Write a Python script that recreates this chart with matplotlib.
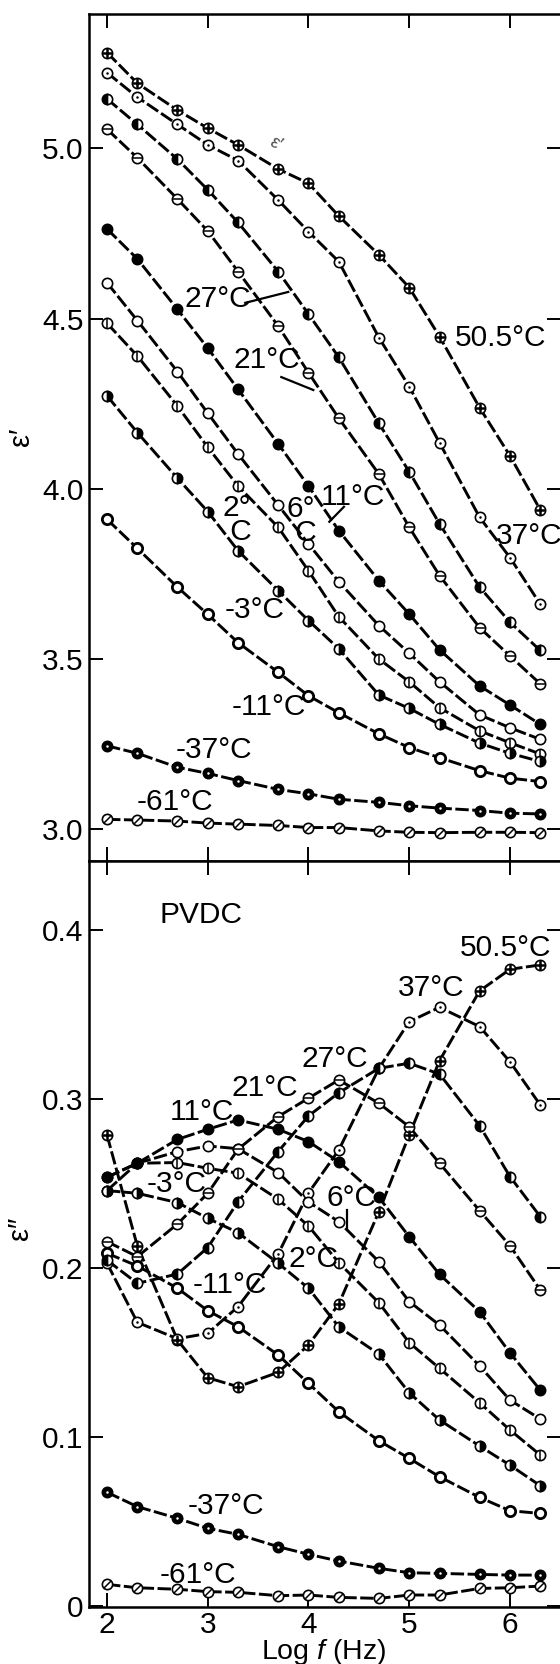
import matplotlib
matplotlib.use("Agg")
import matplotlib.pyplot as plt
import numpy as np
from matplotlib.path import Path

plt.rcParams["font.family"] = ["Liberation Sans", "DejaVu Sans"]
plt.rcParams["mathtext.fontset"] = "custom"
plt.rcParams["mathtext.rm"] = "Liberation Sans"
plt.rcParams["mathtext.it"] = "Liberation Sans:italic"

# measurement frequencies: 100 Hz ... 2 MHz
log_f = np.log10([1e2, 2e2, 5e2, 1e3, 2e3, 5e3, 1e4, 2e4, 5e4, 1e5, 2e5, 5e5, 1e6, 2e6])

temps = ["50.5", "37", "27", "21", "11", "6", "2", "-3", "-11", "-37", "-61"]

# real part, eps'
eps1_505 = [5.281, 5.191, 5.112, 5.059, 5.010, 4.939, 4.897, 4.801, 4.687, 4.591, 4.447, 4.238, 4.097, 3.938]
eps1_37 = [5.222, 5.150, 5.070, 5.010, 4.964, 4.848, 4.755, 4.667, 4.444, 4.300, 4.135, 3.916, 3.798, 3.661]
eps1_27 = [5.145, 5.070, 4.968, 4.878, 4.782, 4.638, 4.513, 4.386, 4.192, 4.050, 3.897, 3.711, 3.608, 3.525]
eps1_21 = [5.056, 4.972, 4.851, 4.757, 4.638, 4.478, 4.341, 4.207, 4.043, 3.887, 3.745, 3.592, 3.509, 3.427]
eps1_11 = [4.763, 4.675, 4.527, 4.413, 4.292, 4.132, 4.008, 3.877, 3.730, 3.632, 3.527, 3.421, 3.365, 3.308]
eps1_6 = [4.605, 4.494, 4.344, 4.222, 4.102, 3.952, 3.838, 3.727, 3.598, 3.517, 3.433, 3.336, 3.298, 3.264]
eps1_2 = [4.486, 4.390, 4.243, 4.122, 4.008, 3.887, 3.759, 3.624, 3.500, 3.433, 3.357, 3.289, 3.254, 3.221]
eps1_m3 = [4.273, 4.165, 4.031, 3.933, 3.818, 3.701, 3.613, 3.530, 3.394, 3.355, 3.308, 3.253, 3.223, 3.199]
eps1_m11 = [3.910, 3.825, 3.711, 3.631, 3.548, 3.461, 3.392, 3.342, 3.280, 3.240, 3.210, 3.172, 3.150, 3.140]
eps1_m37 = [3.245, 3.223, 3.182, 3.164, 3.143, 3.117, 3.104, 3.088, 3.079, 3.069, 3.062, 3.055, 3.047, 3.045]
eps1_m61 = [3.029, 3.027, 3.024, 3.018, 3.015, 3.011, 3.005, 3.005, 2.995, 2.991, 2.990, 2.991, 2.991, 2.990]

# loss, eps''
eps2_505 = [0.2786, 0.2129, 0.1573, 0.1349, 0.1296, 0.1381, 0.1543, 0.1786, 0.2332, 0.2786, 0.3226, 0.3639, 0.3767, 0.3793]
eps2_37 = [0.2027, 0.1677, 0.1580, 0.1612, 0.1770, 0.2082, 0.2443, 0.2697, 0.3180, 0.3457, 0.3542, 0.3428, 0.3220, 0.2964]
eps2_27 = [0.2045, 0.1908, 0.1963, 0.2120, 0.2391, 0.2688, 0.2899, 0.3036, 0.3181, 0.3211, 0.3147, 0.2841, 0.2540, 0.2303]
eps2_21 = [0.2155, 0.2066, 0.2259, 0.2441, 0.2702, 0.2895, 0.3004, 0.3112, 0.2974, 0.2835, 0.2619, 0.2338, 0.2131, 0.1869]
eps2_11 = [0.2536, 0.2619, 0.2760, 0.2820, 0.2875, 0.2820, 0.2747, 0.2628, 0.2417, 0.2184, 0.1961, 0.1740, 0.1497, 0.1276]
eps2_6 = [0.2536, 0.2619, 0.2688, 0.2721, 0.2705, 0.2564, 0.2390, 0.2273, 0.2036, 0.1800, 0.1661, 0.1419, 0.1217, 0.1105]
eps2_2 = [0.2457, 0.2619, 0.2623, 0.2589, 0.2560, 0.2406, 0.2247, 0.2030, 0.1793, 0.1557, 0.1405, 0.1201, 0.1040, 0.0892]
eps2_m3 = [0.2457, 0.2441, 0.2386, 0.2293, 0.2208, 0.2027, 0.1879, 0.1650, 0.1489, 0.1260, 0.1099, 0.0945, 0.0832, 0.0710]
eps2_m11 = [0.2086, 0.2011, 0.1879, 0.1746, 0.1651, 0.1484, 0.1316, 0.1148, 0.0976, 0.0872, 0.0763, 0.0641, 0.0562, 0.0546]
eps2_m37 = [0.0671, 0.0586, 0.0517, 0.0458, 0.0422, 0.0349, 0.0304, 0.0264, 0.0221, 0.0195, 0.0191, 0.0185, 0.0181, 0.0181]
eps2_m61 = [0.0126, 0.0106, 0.0097, 0.0083, 0.0079, 0.0059, 0.0063, 0.0049, 0.0043, 0.0063, 0.0063, 0.0102, 0.0106, 0.0116]

eps1 = [eps1_505, eps1_37, eps1_27, eps1_21, eps1_11, eps1_6, eps1_2, eps1_m3, eps1_m11, eps1_m37, eps1_m61]
eps2 = [eps2_505, eps2_37, eps2_27, eps2_21, eps2_11, eps2_6, eps2_2, eps2_m3, eps2_m11, eps2_m37, eps2_m61]

# symbol used for each temperature
symbols = ["plus", "dot", "left", "hbar", "full", "open", "vbar", "right", "thick", "inv", "slash"]

# curve labels: (text, x, y) in data units
labels_top = [
    ("50.5°C", 5.45, 4.444), ("37°C", 5.86, 3.861), ("27°C", 2.772, 4.557),
    ("21°C", 3.253, 4.377), ("11°C", 4.117, 3.976), ("6°\n C", 3.784, 3.905),
    ("2°\n C", 3.143, 3.908),
    ("-3°C", 3.163, 3.644), ("-11°C", 3.233, 3.359), ("-37°C", 2.684, 3.233),
    ("-61°C", 2.293, 3.081),
]
leaders_top = [((3.372, 3.799), (4.546, 4.578)), ((3.730, 4.048), (4.328, 4.290)),
               ((4.352, 4.207), (3.947, 3.903))]
labels_bot = [
    ("PVDC", 2.524, 0.4089), ("50.5°C", 5.506, 0.3896), ("37°C", 4.883, 0.3657),
    ("27°C", 3.926, 0.3236), ("21°C", 3.233, 0.3065), ("11°C", 2.623, 0.2924),
    ("-3°C", 2.398, 0.2496), ("-11°C", 2.845, 0.1898), ("2°C", 3.799, 0.2052),
    ("6°C", 4.177, 0.2413), ("-37°C", 2.805, 0.0590), ("-61°C", 2.524, 0.0181),
]
leaders_bot = [((4.386, 4.386), (0.2342, 0.2224))]

MS = 7.4
slash = Path([(-1, -1), (1, 1)], [Path.MOVETO, Path.LINETO])


def draw_curve(ax, x, y, sym):
    ax.plot(x, y, color="k", lw=2.1, dashes=(4.6, 1.2), dash_capstyle="butt", zorder=2)
    # dark symbols sit on top of open ones where points coincide
    z = 3.5 if sym in ("full", "left", "right", "inv") else 3
    pts = dict(ls="none", zorder=z)
    if sym == "full":
        ax.plot(x, y, marker="o", ms=MS, mfc="k", mec="k", mew=1.2, **pts)
    elif sym == "inv":
        ax.plot(x, y, marker="o", ms=MS, mfc="k", mec="k", mew=1.2, **pts)
        ax.plot(x, y, marker="o", ms=1.8, mfc="w", mec="w", mew=0, ls="none", zorder=z + 0.1)
    elif sym in ("left", "right"):
        ax.plot(x, y, marker="o", ms=MS, mfc="k", mfcalt="w", fillstyle=sym,
                mec="k", mew=1.2, **pts)
    else:
        ax.plot(x, y, marker="o", ms=MS, mfc="w", mec="k",
                mew=2.0 if sym == "thick" else 1.2, **pts)
        inner = dict(ls="none", zorder=z + 0.1, mec="k", mfc="k")
        if sym == "plus":
            ax.plot(x, y, marker="+", ms=MS, mew=1.8, **inner)
        elif sym == "dot":
            ax.plot(x, y, marker="o", ms=1.8, mew=0, **inner)
        elif sym == "hbar":
            ax.plot(x, y, marker="_", ms=MS, mew=1.1, **inner)
        elif sym == "vbar":
            ax.plot(x, y, marker="|", ms=MS, mew=1.1, **inner)
        elif sym == "slash":
            ax.plot(x, y, marker=slash, ms=MS * 0.72, mew=1.1, **inner)


fig = plt.figure(figsize=(5.6, 16.64), dpi=100)
ax1 = fig.add_axes([0.1589, 0.4828, 0.8429, 0.5088])
ax2 = fig.add_axes([0.1589, 0.0344, 0.8429, 0.4484])

for ys, sym in zip(eps1, symbols):
    draw_curve(ax1, log_f, ys, sym)
for ys, sym in zip(eps2, symbols):
    draw_curve(ax2, log_f, ys, sym)

fs = 21.5
for text, x, y in labels_top:
    ax1.text(x, y, text, fontsize=fs, ha="left", va="center", linespacing=0.8, zorder=5)
for xs, ys in leaders_top:
    ax1.plot(xs, ys, color="k", lw=1.6, zorder=5)
ax1.text(3.67, 5.013, "ε′", fontsize=13, rotation=-30, ha="center", va="center", color="0.3")
for text, x, y in labels_bot:
    ax2.text(x, y, text, fontsize=fs, ha="left", va="center", zorder=5)
for xs, ys in leaders_bot:
    ax2.plot(xs, ys, color="k", lw=1.6, zorder=5)

for ax in (ax1, ax2):
    ax.set_xlim(1.821, 6.507)
    ax.set_xticks([2, 3, 4, 5, 6])
    ax.tick_params(direction="in", length=10, width=1.4, top=True, right=True,
                   labelsize=fs, pad=4)
    for sp in ax.spines.values():
        sp.set_linewidth(1.8)

ax1.set_ylim(2.9078, 5.3944)
ax1.set_yticks([3.0, 3.5, 4.0, 4.5, 5.0])
ax1.set_yticklabels(["3.0", "3.5", "4.0", "4.5", "5.0"])
ax1.tick_params(labelbottom=False)

ax2.set_ylim(-0.00065, 0.44103)
ax2.set_yticks([0, 0.1, 0.2, 0.3, 0.4])
ax2.set_yticklabels(["0", "0.1", "0.2", "0.3", "0.4"])
ax2.set_xticklabels(["2", "3", "4", "5", "6"])
ax2.tick_params(axis="x", pad=3)

fig.text(0.0375, 0.7374, "ε′", fontsize=21, rotation=90, ha="center", va="center")
fig.text(0.036, 0.262, "ε″", fontsize=21, rotation=90, ha="center", va="center")
fig.text(0.578, 0.0072, "Log $f$ (Hz)", fontsize=20.5, ha="center", va="center")

fig.savefig("out.png", dpi=100)
